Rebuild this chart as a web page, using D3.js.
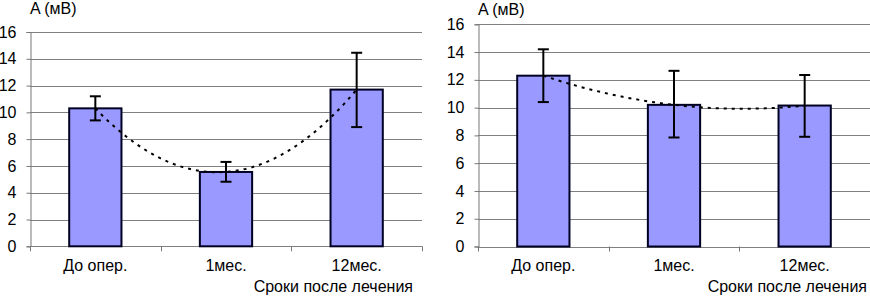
<!DOCTYPE html>
<html>
<head>
<meta charset="utf-8">
<script src="https://cdn.jsdelivr.net/npm/d3@7/dist/d3.min.js"></script>
<style>
  body { margin: 0; background: #fff; }
  svg text { font-family: "Liberation Sans", Arial, sans-serif; font-size: 16px; fill: #000; }
</style>
</head>
<body>
<div id="root"></div>
<script>
const categories = ["До опер.", "1мес.", "12мес."];
const yTicks = [0, 2, 4, 6, 8, 10, 12, 14, 16];

// left panel
const leftMean = [10.3, 5.55, 11.7];
const leftLow  = [9.4, 4.82, 8.9];
const leftHigh = [11.2, 6.3, 14.45];

// right panel
const rightMean = [12.3, 10.2, 10.15];
const rightLow  = [10.4, 7.85, 7.9];
const rightHigh = [14.2, 12.65, 12.35];

const yLabel = "A (мВ)";
const xLabel = "Сроки после лечения";

const width = 870, height = 297;

const svg = d3.select("#root").append("svg")
    .attr("width", width)
    .attr("height", height);

// quadratic least squares, like a spreadsheet polynomial trendline
function polyFit(xs, ys) {
    let s = [0, 0, 0, 0, 0], t = [0, 0, 0];
    xs.forEach((x, i) => {
        for (let k = 0; k < 5; k++) s[k] += Math.pow(x, k);
        for (let k = 0; k < 3; k++) t[k] += ys[i] * Math.pow(x, k);
    });
    const m = [[s[0], s[1], s[2], t[0]], [s[1], s[2], s[3], t[1]], [s[2], s[3], s[4], t[2]]];
    for (let i = 0; i < 3; i++) {
        for (let j = i + 1; j < 3; j++) {
            const f = m[j][i] / m[i][i];
            for (let k = i; k < 4; k++) m[j][k] -= f * m[i][k];
        }
    }
    const c = [0, 0, 0];
    for (let i = 2; i >= 0; i--) {
        let v = m[i][3];
        for (let k = i + 1; k < 3; k++) v -= m[i][k] * c[k];
        c[i] = v / m[i][i];
    }
    return x => c[0] + c[1] * x + c[2] * x * x;
}

function drawPanel(mean, low, high, box) {
    const g = svg.append("g");

    const x = d3.scaleBand().domain(categories).range([box.x0, box.x1]).padding(0);
    const y = d3.scaleLinear().domain([0, 16]).range([box.y0, box.y1]);
    const barW = x.bandwidth() * 0.4;
    const cx = d => x(d) + x.bandwidth() / 2;

    // gridlines
    g.selectAll(".grid")
        .data(yTicks)
        .enter()
        .append("line")
        .attr("class", "grid")
        .attr("x1", box.x0).attr("x2", box.x1)
        .attr("y1", d => Math.round(y(d)) + 0.5).attr("y2", d => Math.round(y(d)) + 0.5)
        .attr("stroke", "#808080")
        .attr("stroke-width", 1);

    // y axis
    const yAxis = d3.axisLeft(y).tickValues(yTicks).tickSize(4).tickPadding(10);
    g.append("g")
        .attr("transform", `translate(${Math.round(box.x0) + 0.5},0)`)
        .call(yAxis)
        .call(a => a.select(".domain").attr("stroke", "#777"))
        .call(a => a.selectAll(".tick line").attr("stroke", "#777"))
        .call(a => a.selectAll("text").style("font-size", "16px").attr("fill", "#000"));

    // x axis ticks at band boundaries
    const bounds = [box.x0].concat(categories.map(c => x(c) + x.bandwidth()));
    g.selectAll(".xtick")
        .data(bounds)
        .enter()
        .append("line")
        .attr("x1", d => Math.round(d) + 0.5).attr("x2", d => Math.round(d) + 0.5)
        .attr("y1", y(0)).attr("y2", y(0) + 5)
        .attr("stroke", "#777");

    g.selectAll(".xlabel")
        .data(categories)
        .enter()
        .append("text")
        .attr("x", cx)
        .attr("y", 271)
        .attr("text-anchor", "middle")
        .text(d => d);

    // bars
    g.selectAll(".bar")
        .data(categories)
        .enter()
        .append("rect")
        .attr("x", d => cx(d) - barW / 2)
        .attr("y", (d, i) => y(mean[i]))
        .attr("width", barW)
        .attr("height", (d, i) => y(0) - y(mean[i]))
        .attr("fill", "#9999ff")
        .attr("stroke", "#000022")
        .attr("stroke-width", 2);

    // trendline
    const fit = polyFit([1, 2, 3], mean);
    const pts = d3.range(1, 3.001, 0.05);
    const tx = d3.scaleLinear().domain([1, 3]).range([cx(categories[0]), cx(categories[2])]);
    g.append("path")
        .datum(pts)
        .attr("d", d3.line().x(d => tx(d)).y(d => y(fit(d))))
        .attr("fill", "none")
        .attr("stroke", "#000")
        .attr("stroke-width", 2)
        .attr("stroke-dasharray", "3,5");

    // error bars
    const err = g.selectAll(".err")
        .data(categories)
        .enter()
        .append("g");
    err.append("line")
        .attr("x1", cx).attr("x2", cx)
        .attr("y1", (d, i) => y(high[i])).attr("y2", (d, i) => y(low[i]))
        .attr("stroke", "#000").attr("stroke-width", 2);
    [high, low].forEach(arr => {
        err.append("line")
            .attr("x1", d => cx(d) - 5.5).attr("x2", d => cx(d) + 5.5)
            .attr("y1", (d, i) => y(arr[i])).attr("y2", (d, i) => y(arr[i]))
            .attr("stroke", "#000").attr("stroke-width", 2);
    });

    g.append("text")
        .attr("x", box.x0)
        .attr("y", box.titleY)
        .text(yLabel);

    g.append("text")
        .attr("x", box.xLabelRight)
        .attr("y", 292)
        .attr("text-anchor", "end")
        .text(xLabel);
}

drawPanel(leftMean, leftLow, leftHigh,
    {x0: 30, x1: 422, y0: 246.3, y1: 32, titleY: 13.5, xLabelRight: 413});
drawPanel(rightMean, rightLow, rightHigh,
    {x0: 478, x1: 870, y0: 246.5, y1: 24.3, titleY: 14.5, xLabelRight: 867});
</script>
</body>
</html>
